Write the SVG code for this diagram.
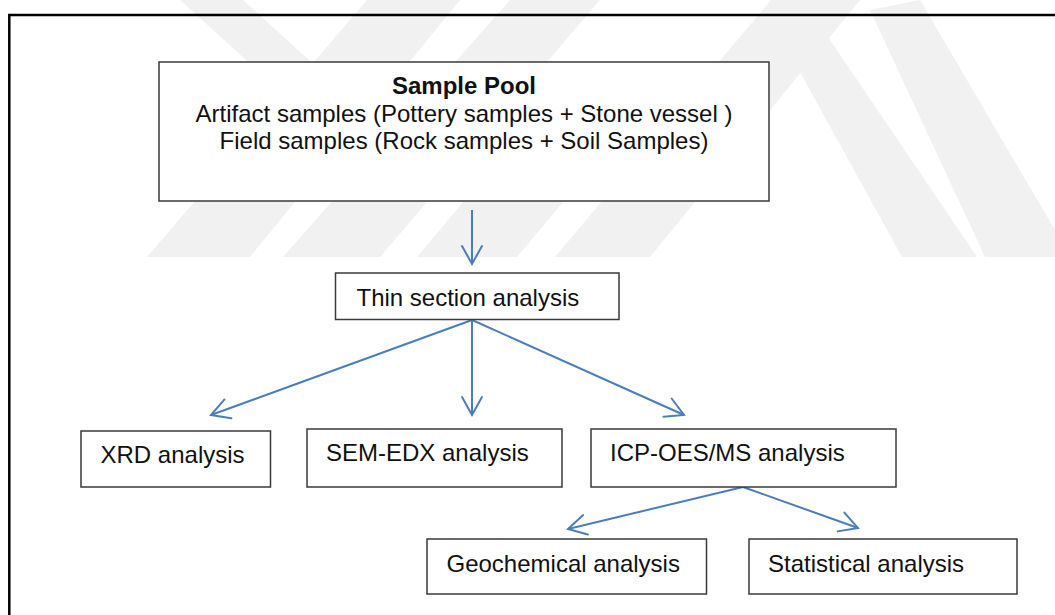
<svg xmlns="http://www.w3.org/2000/svg" width="1055" height="615" viewBox="0 0 1055 615">
  <defs>
    <marker id="head" markerUnits="userSpaceOnUse" markerWidth="24" markerHeight="24" viewBox="-20 -12 24 24" refX="0" refY="0" orient="auto">
      <path d="M-18,-10 L0,0 L-18,10" fill="none" stroke="#4a7ebb" stroke-width="2" stroke-linecap="round" stroke-linejoin="miter"/>
    </marker>
    <style>
      .box { fill: #ffffff; stroke: #3a3a3a; stroke-width: 1.5; }
      .lbl { font-family: "Liberation Sans", Arial, sans-serif; font-size: 24px; fill: #111111; }
      .ttl { font-weight: bold; }
      .link { fill: none; stroke: #4a7ebb; stroke-width: 2; marker-end: url(#head); }
      .band { fill: #f1f1f1; }
    </style>
  </defs>

  <rect width="1055" height="615" fill="#ffffff"/>

  <!-- faint background emblem of diagonal bands -->
  <g id="backdrop">
    <polygon class="band" points="180,0 243,0 375,120 312,120"/>
    <polygon class="band" points="367,0 460,0 250,257 147,257"/>
    <polygon class="band" points="510,0 600,0 380,257 283,257"/>
    <polygon class="band" points="574,70 674,70 517,257 417,257"/>
    <polygon class="band" points="771,0 860,0 650,257 555,257"/>
    <polygon class="band" points="795,63 828,37 977,257 902,257"/>
    <polygon class="band" points="870,10 920,0 1055,230 1055,257 985,257"/>
  </g>

  <!-- page frame -->
  <path d="M9.3,620 V15 H1060" fill="none" stroke="#000000" stroke-width="2.5"/>

  <g id="connectors">
    <line class="link" x1="472" y1="210" x2="472" y2="264"/>
    <line class="link" x1="472" y1="320" x2="211" y2="415"/>
    <line class="link" x1="472" y1="320" x2="472" y2="415"/>
    <line class="link" x1="472" y1="320" x2="684" y2="415"/>
    <line class="link" x1="743" y1="487" x2="568" y2="529"/>
    <line class="link" x1="743" y1="487" x2="858" y2="528"/>
  </g>

  <g id="sample-pool">
    <rect class="box" x="159" y="62" width="610" height="139"/>
    <text class="lbl ttl" x="464" y="94" text-anchor="middle">Sample Pool</text>
    <text class="lbl" x="464" y="121.5" text-anchor="middle">Artifact samples (Pottery samples + Stone vessel )</text>
    <text class="lbl" x="464" y="149" text-anchor="middle">Field samples (Rock samples + Soil Samples)</text>
  </g>

  <g id="thin-section">
    <rect class="box" x="335.5" y="273" width="283.5" height="46.5"/>
    <text class="lbl" x="356.5" y="306">Thin section analysis</text>
  </g>

  <g id="xrd">
    <rect class="box" x="81" y="431" width="189.5" height="56"/>
    <text class="lbl" x="100.5" y="463">XRD analysis</text>
  </g>

  <g id="sem-edx">
    <rect class="box" x="307" y="429" width="255" height="58"/>
    <text class="lbl" x="326" y="461">SEM-EDX analysis</text>
  </g>

  <g id="icp">
    <rect class="box" x="591" y="429" width="305" height="58"/>
    <text class="lbl" x="610" y="461">ICP-OES/MS analysis</text>
  </g>

  <g id="geochemical">
    <rect class="box" x="427" y="539" width="279.5" height="55"/>
    <text class="lbl" x="446.5" y="572">Geochemical analysis</text>
  </g>

  <g id="statistical">
    <rect class="box" x="749" y="539" width="268" height="55"/>
    <text class="lbl" x="768" y="572">Statistical analysis</text>
  </g>
</svg>
